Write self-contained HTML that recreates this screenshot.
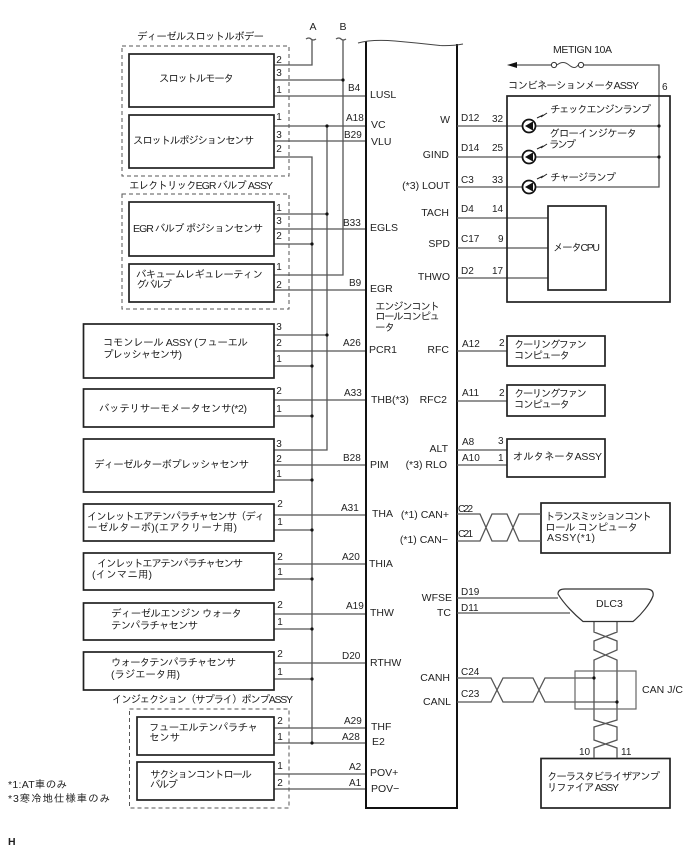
<!DOCTYPE html>
<html><head><meta charset="utf-8"><style>
html,body{margin:0;padding:0;background:#fff}
svg{display:block}
text{font-family:"Liberation Sans","IPAGothic","Noto Sans CJK JP",sans-serif;font-size:10.5px;fill:#222}
.s{font-size:10px}
.e{text-anchor:end}
.m{text-anchor:middle}
.w{fill:none;stroke:#555;stroke-width:1.3}
.b{fill:#fff;stroke:#222;stroke-width:1.7}
.d{fill:none;stroke:#555;stroke-width:1;stroke-dasharray:4 3}
.l{fill:none;stroke:#111;stroke-width:2}
circle.o{fill:#111;stroke:none}
</style></head><body>
<svg width="688" height="852" viewBox="0 0 688 852" xmlns="http://www.w3.org/2000/svg">
<rect width="688" height="852" fill="#fff"/>
<!-- dashed groups -->
<rect class="d" x="122" y="46" width="167" height="130"/>
<rect class="d" x="122" y="194" width="167" height="115"/>
<rect class="d" x="129.500" y="709" width="159.500" height="99"/>
<!-- left wires -->
<path class="w" d="M312 40V65H274M274 157H312V743M327 126V450H274M343 40V275H274"/>
<path class="w" d="M274 80H343M274 96H366M274 126H366M274 141H366M274 214H327M274 229H366M274 244H312M274 290H366"/>
<path class="w" d="M274 335H327M274 351H366M274 366H312M274 400H366M274 416H312M274 465H366M274 480H312M274 515H366M274 530H312M274 564H366M274 579H312M274 614H366M274 629H312M274 663H366M274 679H312M274 728H366M274 743H366M274 774H366M274 789H366"/>
<path class="w" d="M306 39q3-2 5 0t5 0M336 39q3-2 5 0t5 0"/>
<!-- left boxes -->
<rect class="b" x="129" y="54" width="145" height="53"/>
<rect class="b" x="129" y="115" width="145" height="53"/>
<rect class="b" x="129" y="202" width="145" height="54"/>
<rect class="b" x="129" y="264" width="145" height="38"/>
<rect class="b" x="83.500" y="324" width="190.500" height="54"/>
<rect class="b" x="83.500" y="389" width="190.500" height="38"/>
<rect class="b" x="83.500" y="439" width="190.500" height="53"/>
<rect class="b" x="83.500" y="504" width="190.500" height="37"/>
<rect class="b" x="83.500" y="553" width="190.500" height="37"/>
<rect class="b" x="83.500" y="603" width="190.500" height="37"/>
<rect class="b" x="83.500" y="652" width="190.500" height="38"/>
<rect class="b" x="137" y="717" width="137" height="38"/>
<rect class="b" x="137" y="762" width="137" height="38"/>
<!-- dots left -->
<g>
<circle class="o" cx="343" cy="80" r="1.600"/><circle class="o" cx="327" cy="126" r="1.600"/><circle class="o" cx="327" cy="214" r="1.600"/><circle class="o" cx="312" cy="244" r="1.600"/><circle class="o" cx="327" cy="335" r="1.600"/><circle class="o" cx="312" cy="366" r="1.600"/><circle class="o" cx="312" cy="416" r="1.600"/><circle class="o" cx="312" cy="480" r="1.600"/><circle class="o" cx="312" cy="530" r="1.600"/><circle class="o" cx="312" cy="579" r="1.600"/><circle class="o" cx="312" cy="629" r="1.600"/><circle class="o" cx="312" cy="679" r="1.600"/><circle class="o" cx="312" cy="743" r="1.600"/>
</g>
<!-- ECU -->
<path class="l" d="M366 41V808H457V44"/>
<path d="M358 43Q372 39 395 41T440 45.500Q452 46 463 44" fill="none" stroke="#444" stroke-width="1"/>
<!-- right wires -->
<path class="w" d="M516 65H551M584 65H659V187H457M457 126H659M457 157H659M457 218H548M457 248H548M457 278H548M457 351H507M457 401H507M457 450H507M457 465H507M457 598H558M457 613H570"/>
<path d="M507 65L517 62V68Z" fill="#111"/>
<circle cx="554" cy="65" r="2.600" fill="#fff" stroke="#333"/><circle cx="581" cy="65" r="2.600" fill="#fff" stroke="#333"/>
<path d="M557 65q6-5 12 0t9 0" fill="none" stroke="#444"/>
<rect x="507" y="96" width="163" height="206" fill="none" stroke="#222" stroke-width="1.700"/>
<rect x="548" y="206" width="58" height="84" fill="#fff" stroke="#222" stroke-width="1.700"/>
<circle class="o" cx="659" cy="126" r="1.600"/><circle class="o" cx="659" cy="157" r="1.600"/>
<!-- LEDs -->
<g id="leds">
<g transform="translate(529,126)"><circle r="6.500" fill="#fff" stroke="#111" stroke-width="1.800"/><path d="M-4 0L3-4V4Z" fill="#111"/><path d="M3.500-4V4" stroke="#111"/><path d="M8-8L13-10.500L12-9L18-13" fill="none" stroke="#222"/></g>
<g transform="translate(529,157)"><circle r="6.500" fill="#fff" stroke="#111" stroke-width="1.800"/><path d="M-4 0L3-4V4Z" fill="#111"/><path d="M3.500-4V4" stroke="#111"/><path d="M8-8L13-10.500L12-9L18-13" fill="none" stroke="#222"/></g>
<g transform="translate(529,187)"><circle r="6.500" fill="#fff" stroke="#111" stroke-width="1.800"/><path d="M-4 0L3-4V4Z" fill="#111"/><path d="M3.500-4V4" stroke="#111"/><path d="M8-8L13-10.500L12-9L18-13" fill="none" stroke="#222"/></g>
</g>
<!-- right boxes -->
<rect class="b" x="507" y="336" width="98" height="30"/>
<rect class="b" x="507" y="385" width="98" height="31"/>
<rect class="b" x="507" y="439" width="98" height="38"/>
<rect class="b" x="541" y="503" width="129" height="50"/>
<rect class="b" x="541" y="758.500" width="129" height="49.500"/>
<!-- twists -->
<path class="w" d="M457 514H480L492 541H507L519 514H541M457 541H480L492 514H507L519 541H541"/>
<path class="w" d="M457 678H491L503 702H533L545 678H594M457 702H491L503 678H533L545 702H617"/>
<path class="w" d="M594 622V632L617 641V650L594 660V720L617 727V740L594 748V758M617 622V632L594 641V650L617 660V720L594 727V740L617 748V758"/>
<rect x="575" y="671" width="61" height="38" fill="none" stroke="#666" stroke-width="1.200"/>
<circle class="o" cx="594" cy="678" r="1.600"/><circle class="o" cx="617" cy="702" r="1.600"/>
<path d="M558 594C558 590 561 589 565 589H646C651 589 654 591 653 596C650 604 641 615 633 621.500H583C575 615 564 604 558 594Z" fill="#fff" stroke="#333" stroke-width="1.200"/>

<!-- left labels -->
<text x="313" y="30" class="m">A</text><text x="343" y="30" class="m">B</text>
<text x="137" y="40" textLength="127">ディーゼルスロットルボデー</text>
<text x="159" y="82" textLength="75">スロットルモータ</text>
<text x="133" y="144" textLength="121">スロットルポジションセンサ</text>
<text x="129" y="189" textLength="144">エレクトリックEGR バルブ ASSY</text>
<text x="133" y="232" textLength="130">EGR バルブ ポジションセンサ</text>
<text x="136" y="278" textLength="127">バキュームレギュレーティン</text>
<text x="136" y="288" textLength="36">グバルブ</text>
<text x="103" y="346" textLength="145">コモンレール ASSY (フューエル</text>
<text x="103" y="358" textLength="79">プレッシャセンサ)</text>
<text x="99" y="412" textLength="148">バッテリサーモメータセンサ(*2)</text>
<text x="94" y="468" textLength="155">ディーゼルターボプレッシャセンサ</text>
<text x="87" y="520" textLength="178">インレットエアテンパラチャセンサ（ディ</text>
<text x="87" y="531" textLength="150">ーゼルターボ)(エアクリーナ用)</text>
<text x="97" y="567" textLength="146">インレットエアテンパラチャセンサ</text>
<text x="92" y="578" textLength="60">(インマニ用)</text>
<text x="111" y="617" textLength="131">ディーゼルエンジン ウォータ</text>
<text x="111" y="629" textLength="87">テンパラチャセンサ</text>
<text x="111" y="666" textLength="125">ウォータテンパラチャセンサ</text>
<text x="111" y="678" textLength="69">(ラジエータ用)</text>
<text x="112" y="703" textLength="181">インジェクション（サプライ）ポンプASSY</text>
<text x="149" y="731" textLength="109">フューエルテンパラチャ</text>
<text x="149" y="741" textLength="31">センサ</text>
<text x="150" y="778" textLength="102">サクションコントロール</text>
<text x="150" y="788" textLength="28">バルブ</text>
<text x="8" y="788" textLength="59">*1:AT車のみ</text>
<text x="8" y="802" textLength="102">*3寒冷地仕様車のみ</text>
<text x="8" y="845" style="font-weight:bold">H</text>

<!-- pins -->
<g class="s">
<text class="s m" x="279" y="63">2</text><text class="s m" x="279" y="76">3</text><text class="s m" x="279" y="93">1</text>
<text class="s m" x="279" y="120">1</text><text class="s m" x="279" y="138">3</text><text class="s m" x="279" y="152">2</text>
<text class="s m" x="279" y="211">1</text><text class="s m" x="279" y="224">3</text><text class="s m" x="279" y="239">2</text>
<text class="s m" x="279" y="270">1</text><text class="s m" x="279" y="288">2</text>
<text class="s m" x="279" y="330">3</text><text class="s m" x="279" y="346">2</text><text class="s m" x="279" y="362">1</text>
<text class="s m" x="279" y="394">2</text><text class="s m" x="279" y="412">1</text>
<text class="s m" x="279" y="447">3</text><text class="s m" x="279" y="462">2</text><text class="s m" x="279" y="477">1</text>
<text class="s m" x="280" y="507">2</text><text class="s m" x="280" y="525">1</text>
<text class="s m" x="280" y="560">2</text><text class="s m" x="280" y="575">1</text>
<text class="s m" x="280" y="608">2</text><text class="s m" x="280" y="625">1</text>
<text class="s m" x="280" y="657">2</text><text class="s m" x="280" y="675">1</text>
<text class="s m" x="280" y="724">2</text><text class="s m" x="280" y="740">1</text>
<text class="s m" x="280" y="769">1</text><text class="s m" x="280" y="786">2</text>
</g>
<!-- connector codes left -->
<text class="s" x="348" y="91">B4</text>
<text class="s" x="346" y="121">A18</text>
<text class="s" x="344" y="138">B29</text>
<text class="s" x="343" y="226">B33</text>
<text class="s" x="349" y="286">B9</text>
<text class="s" x="343" y="346">A26</text>
<text class="s" x="344" y="396">A33</text>
<text class="s" x="343" y="461">B28</text>
<text class="s" x="341" y="511">A31</text>
<text class="s" x="342" y="560">A20</text>
<text class="s" x="346" y="609">A19</text>
<text class="s" x="342" y="659">D20</text>
<text class="s" x="344" y="724">A29</text>
<text class="s" x="342" y="740">A28</text>
<text class="s" x="349" y="770">A2</text>
<text class="s" x="349" y="786">A1</text>
<!-- ECU left pin names -->
<text x="370" y="98">LUSL</text><text x="371" y="128">VC</text><text x="371" y="145">VLU</text>
<text x="370" y="231">EGLS</text><text x="370" y="292">EGR</text>
<text x="375" y="310" textLength="65">エンジンコント</text>
<text x="375" y="320" textLength="65">ロールコンピュ</text>
<text x="375" y="331" textLength="20">ータ</text>
<text x="369" y="353">PCR1</text><text x="371" y="403">THB(*3)</text><text x="370" y="468">PIM</text>
<text x="372" y="517">THA</text><text x="369" y="567">THIA</text><text x="370" y="616">THW</text>
<text x="370" y="666">RTHW</text><text x="371" y="730">THF</text><text x="372" y="745">E2</text>
<text x="370" y="776">POV+</text><text x="371" y="792">POV−</text>
<!-- ECU right pin names -->
<text class="e" x="450" y="123">W</text><text class="e" x="449" y="158">GIND</text><text class="e" x="450" y="189">(*3) LOUT</text>
<text class="e" x="449" y="216">TACH</text><text class="e" x="450" y="247">SPD</text><text class="e" x="450" y="280">THWO</text>
<text class="e" x="449" y="353">RFC</text><text class="e" x="447" y="403">RFC2</text>
<text class="e" x="448" y="452">ALT</text><text class="e" x="447" y="468">(*3) RLO</text>
<text class="e" x="449" y="518">(*1) CAN+</text><text class="e" x="448" y="543">(*1) CAN−</text>
<text class="e" x="452" y="601">WFSE</text><text class="e" x="451" y="616">TC</text>
<text class="e" x="450" y="681">CANH</text><text class="e" x="451" y="705">CANL</text>
<!-- right codes -->
<text class="s" x="461" y="121">D12</text><text class="s" x="492" y="122">32</text>
<text class="s" x="461" y="151">D14</text><text class="s" x="492" y="151">25</text>
<text class="s" x="461" y="183">C3</text><text class="s" x="492" y="183">33</text>
<text class="s" x="461" y="212">D4</text><text class="s" x="492" y="212">14</text>
<text class="s" x="461" y="242">C17</text><text class="s" x="498" y="242">9</text>
<text class="s" x="461" y="274">D2</text><text class="s" x="492" y="274">17</text>
<text class="s" x="462" y="347">A12</text><text class="s" x="499" y="346">2</text>
<text class="s" x="462" y="396">A11</text><text class="s" x="499" y="396">2</text>
<text class="s" x="462" y="445">A8</text><text class="s" x="498" y="444">3</text>
<text class="s" x="462" y="461">A10</text><text class="s" x="498" y="461">1</text>
<text class="s" x="458" y="512" textLength="15">C22</text><text class="s" x="458" y="537" textLength="15">C21</text>
<text class="s" x="461" y="595">D19</text><text class="s" x="461" y="611">D11</text>
<text class="s" x="461" y="675">C24</text><text class="s" x="461" y="697">C23</text>
<!-- right labels -->
<text x="553" y="53" textLength="59">METIGN 10A</text>
<text x="508" y="89" textLength="131">コンビネーションメータASSY</text>
<text class="s" x="662" y="90">6</text>
<text x="550" y="113" textLength="101">チェックエンジンランプ</text>
<text x="549" y="137" textLength="88">グローインジケータ</text>
<text x="549" y="148" textLength="27">ランプ</text>
<text x="550" y="181" textLength="66">チャージランプ</text>
<text x="553" y="251" textLength="47">メータCPU</text>
<text x="514" y="348" textLength="73">クーリングファン</text>
<text x="514" y="359" textLength="56">コンピュータ</text>
<text x="514" y="397" textLength="73">クーリングファン</text>
<text x="514" y="408" textLength="56">コンピュータ</text>
<text x="513" y="460" textLength="89">オルタネータASSY</text>
<text x="545" y="520" textLength="107">トランスミッション コント</text>
<text x="545" y="531" textLength="93">ロール コンピュータ</text>
<text x="547" y="541" textLength="48">ASSY(*1)</text>
<text x="596" y="607">DLC3</text>
<text x="642" y="693" textLength="41">CAN J/C</text>
<text class="s" x="579" y="755">10</text><text class="s" x="621" y="755">11</text>
<text x="547" y="780" textLength="113">クーラスタビライザアンプ</text>
<text x="547" y="791" textLength="72">リファイア ASSY</text>
</svg>
</body></html>
